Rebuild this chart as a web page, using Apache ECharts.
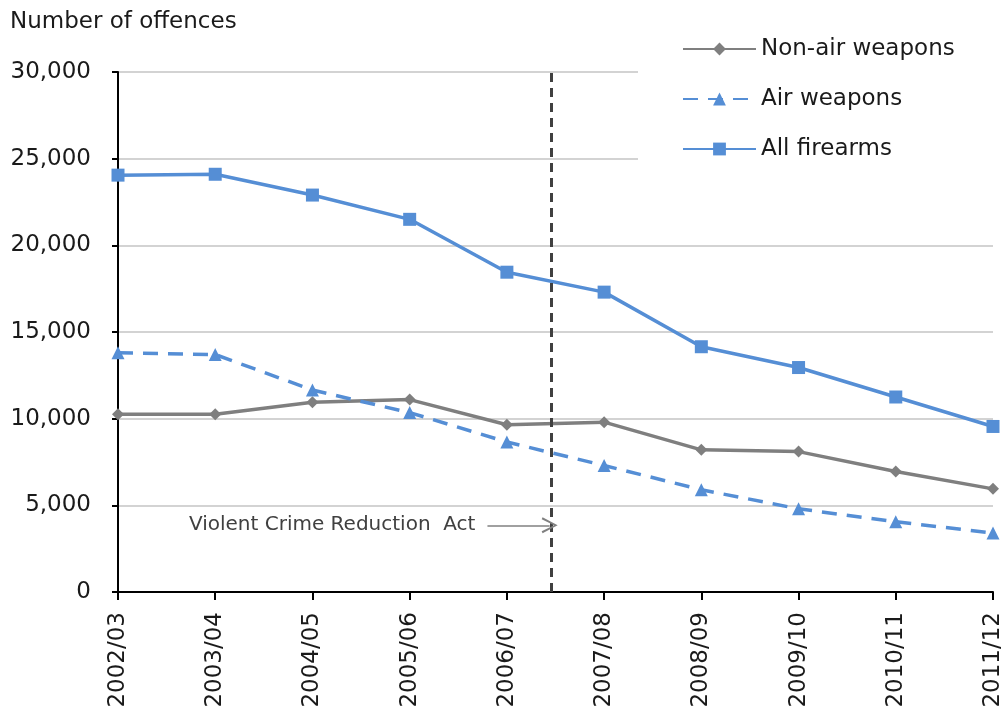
<!DOCTYPE html>
<html>
<head>
<meta charset="utf-8">
<script src="https://cdn.jsdelivr.net/npm/echarts@6/dist/echarts.min.js"></script>
<style>html,body{margin:0;padding:0;background:#fff}#c{width:1008px;height:712px}</style>
</head>
<body>
<div id="c"></div>
<script>
var categories = ['2002/03','2003/04','2004/05','2005/06','2006/07','2007/08','2008/09','2009/10','2010/11','2011/12'];
var nonAirWeapons = [10250, 10250, 10950, 11100, 9650, 9800, 8200, 8100, 6950, 5950];
var airWeapons = [13800, 13700, 11650, 10350, 8650, 7300, 5900, 4800, 4050, 3400];
var allFirearms = [24050, 24100, 22900, 21500, 18450, 17300, 14150, 12950, 11250, 9550];
var seriesNames = ['Non-air weapons', 'Air weapons', 'All firearms'];
var actPosition = 4.46;       // position of Violent Crime Reduction Act (category index units)
var arrowStart = 3.8;
var arrowLevel = 3850;
var annotationText = 'Violent Crime Reduction  Act';

var FONT = 'DejaVu Sans';
var blue = '#558ed5';
var grey = '#7f7f7f';
var chart = echarts.init(document.getElementById('c'), null, {renderer: 'canvas'});
chart.setOption({
  animation: false,
  backgroundColor: '#fff',
  textStyle: {fontFamily: FONT},
  title: {
    text: 'Number of offences', left: 5, top: 6,
    textStyle: {fontFamily: FONT, fontSize: 23, fontWeight: 'normal', color: '#1a1a1a'}
  },
  legend: {
    data: seriesNames,
    orient: 'vertical',
    left: 638, top: 24,
    padding: [12, 60, 16, 44],
    backgroundColor: '#fff',
    itemWidth: 73, itemHeight: 16, itemGap: 24,
    textStyle: {fontFamily: FONT, fontSize: 23, color: '#1a1a1a', lineHeight: 26}
  },
  grid: {left: 118, right: 15, top: 72, bottom: 120, containLabel: false},
  xAxis: [{
    type: 'category', data: categories, boundaryGap: false,
    axisLine: {lineStyle: {color: '#000', width: 2}},
    axisTick: {show: true, length: 8, lineStyle: {color: '#000', width: 2}},
    axisLabel: {rotate: 90, margin: 20, fontFamily: FONT, fontSize: 23, color: '#1a1a1a'},
    splitLine: {show: false}
  }, {
    type: 'value', min: 0, max: categories.length - 1, show: false
  }],
  yAxis: {
    type: 'value', min: 0, max: 30000, interval: 5000,
    axisLine: {show: true, lineStyle: {color: '#000', width: 2}},
    axisTick: {show: true, length: 6, lineStyle: {color: '#000', width: 2}},
    axisLabel: {margin: 27, fontFamily: FONT, fontSize: 23, color: '#1a1a1a',
      formatter: function (v) { return v.toLocaleString('en-US'); }},
    splitLine: {lineStyle: {color: '#c4c4c4', width: 1.5}}
  },
  series: [{
    name: seriesNames[0], type: 'line', data: nonAirWeapons,
    symbol: 'diamond', symbolSize: 12, showAllSymbol: true,
    itemStyle: {color: grey}, lineStyle: {color: grey, width: 3.5}, z: 3
  }, {
    name: seriesNames[1], type: 'line', data: airWeapons,
    symbol: 'triangle', symbolSize: 13, showAllSymbol: true,
    itemStyle: {color: blue}, lineStyle: {color: blue, width: 3.5, type: [15, 10]}, z: 3
  }, {
    name: seriesNames[2], type: 'line', data: allFirearms,
    symbol: 'rect', symbolSize: 13, showAllSymbol: true,
    itemStyle: {color: blue}, lineStyle: {color: blue, width: 3.5}, z: 3
  }, {
    name: 'annotations', type: 'line', xAxisIndex: 1, data: [], z: 2,
    markLine: {
      silent: true, animation: false,
      data: [
        [{coord: [actPosition, 0], symbol: 'none',
          lineStyle: {color: '#404040', width: 3, type: [9, 6]}, label: {show: false}},
         {coord: [actPosition, 30000], symbol: 'none'}],
        [{coord: [arrowStart, arrowLevel], symbol: 'none',
          lineStyle: {color: '#808080', width: 1.5, type: 'solid'},
          label: {show: true, position: 'start', distance: 12, formatter: annotationText,
            fontFamily: FONT, fontSize: 20, color: '#404040'}},
         {coord: [actPosition - 0.02, arrowLevel],
          symbol: 'path://M0,10 L5,0 L10,10 L8.8,10.6 L5,2.4 L1.2,10.6 Z', symbolSize: [16, 16]}]
      ]
    }
  }]
});
</script>
</body>
</html>
